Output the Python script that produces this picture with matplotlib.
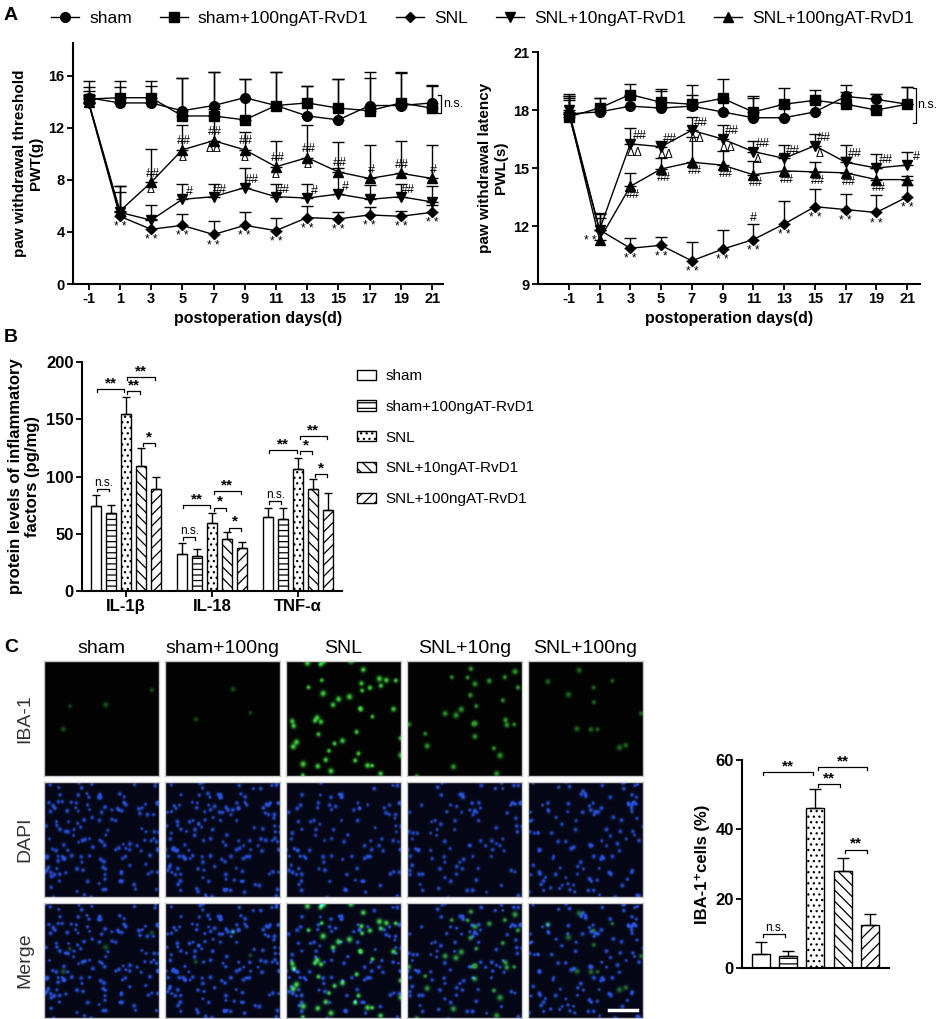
"""Multi-panel figure: pain behaviour (A), cytokines (B), IBA-1 staining (C)."""

import matplotlib.pyplot as plt
import numpy as np

W, H = 941, 1019
NARROW = ["Liberation Sans Narrow", "Liberation Sans", "DejaVu Sans"]
plt.rcParams["font.family"] = ["Liberation Sans", "DejaVu Sans"]
plt.rcParams["hatch.linewidth"] = 0.9

# ---------------- data ----------------
groups = ["sham", "sham+100ngAT-RvD1", "SNL", "SNL+10ngAT-RvD1", "SNL+100ngAT-RvD1"]
short_groups = ["sham", "sham+100ng", "SNL", "SNL+10ng", "SNL+100ng"]
markers = ["o", "s", "D", "v", "^"]
marker_sizes = [7, 6.5, 5.5, 7, 7]
hatches = ["", "---", "...", "\\\\\\", "///"]

days = ["-1", "1", "3", "5", "7", "9", "11", "13", "15", "17", "19", "21"]

# paw withdrawal threshold (g)
pwt_sham = [14.3, 13.9, 13.9, 13.3, 13.7, 14.3, 13.7, 12.9, 12.6, 13.7, 13.7, 13.9]
pwt_sham100 = [14.2, 14.3, 14.3, 12.9, 12.9, 12.6, 13.7, 13.9, 13.5, 13.3, 13.9, 13.5]
pwt_snl = [13.9, 5.2, 4.2, 4.5, 3.8, 4.5, 4.1, 5.1, 5.0, 5.3, 5.2, 5.5]
pwt_snl10 = [13.9, 5.5, 4.9, 6.5, 6.7, 7.4, 6.7, 6.6, 6.9, 6.5, 6.7, 6.3]
pwt_snl100 = [14.0, 5.6, 7.8, 10.3, 11.0, 10.3, 9.0, 9.7, 8.6, 8.1, 8.5, 8.1]
pwt_sham_err = [1.3, 1.2, 1.3, 2.5, 2.6, 1.4, 2.6, 2.3, 3.1, 2.6, 2.6, 1.4]
pwt_sham100_err = [0.9, 1.3, 1.3, 2.9, 3.4, 3.1, 2.6, 1.3, 2.2, 2.5, 2.3, 1.7]
pwt_snl_err = [0.5, 2.3, 0.8, 0.9, 1.0, 1.0, 1.0, 0.9, 0.5, 0.6, 0.4, 0.6]
pwt_snl10_err = [0.6, 1.6, 1.2, 1.2, 1.0, 1.5, 1.0, 1.1, 2.0, 1.1, 1.0, 1.2]
pwt_snl100_err = [0.8, 1.9, 2.6, 1.9, 2.4, 1.4, 2.0, 2.5, 2.3, 2.6, 2.5, 2.6]

# paw withdrawal latency (s)
pwl_sham = [17.8, 17.9, 18.2, 18.1, 18.2, 17.9, 17.6, 17.6, 17.9, 18.7, 18.55, 18.3]
pwl_sham100 = [17.65, 18.1, 18.8, 18.4, 18.3, 18.6, 17.9, 18.3, 18.5, 18.3, 18.0, 18.3]
pwl_snl = [17.8, 11.8, 10.85, 11.0, 10.2, 10.8, 11.3, 12.1, 13.0, 12.85, 12.7, 13.5]
pwl_snl10 = [18.0, 11.8, 16.25, 16.1, 16.95, 16.5, 15.85, 15.5, 16.15, 15.3, 15.0, 15.15]
pwl_snl100 = [17.9, 11.3, 14.05, 14.95, 15.3, 15.15, 14.65, 14.85, 14.8, 14.75, 14.4, 14.4]
pwl_sham_err = [0.9, 0.7, 0.5, 0.9, 0.6, 0.6, 1.0, 0.5, 0.5, 0.6, 0.3, 0.9]
pwl_sham100_err = [1.2, 0.5, 0.55, 0.7, 1.0, 1.0, 0.85, 0.85, 0.55, 0.65, 0.85, 0.9]
pwl_snl_err = [0.7, 0.85, 0.55, 0.45, 0.95, 1.0, 0.8, 1.2, 0.9, 0.8, 0.9, 0.6]
pwl_snl10_err = [0.6, 0.6, 0.8, 0.3, 0.7, 0.7, 0.55, 0.7, 0.6, 0.9, 0.7, 0.7]
pwl_snl100_err = [0.8, 1.3, 0.7, 0.55, 1.3, 0.75, 0.7, 0.8, 0.5, 0.8, 0.6, 0.2]

# significance marks along the time courses
pwt_snl_stars = ["", "**", "**", "**", "**", "**", "**", "**", "**", "**", "**", "**"]
pwt_snl10_hash = ["", "", "", "#", "##", "##", "##", "#", "#", "", "##", ""]
pwt_snl100_hash = ["", "", "##", "##", "##", "##", "##", "##", "##", "#", "##", "#"]
pwt_snl100_delta = ["", "", "Δ", "Δ", "ΔΔ", "Δ", "Δ", "Δ", "", "", "", ""]
pwl_snl_stars = ["", "**", "**", "**", "**", "**", "**", "**", "**", "**", "**", "**"]
pwl_snl_hash = ["", "", "", "", "", "", "#", "", "", "", "", ""]
pwl_snl10_hash = ["", "", "##", "##", "##", "##", "##", "##", "##", "##", "##", "#"]
pwl_snl10_delta = ["", "", "ΔΔ", "ΔΔ", "ΔΔ", "ΔΔ", "Δ", "", "Δ", "", "", ""]
pwl_snl100_hash = ["", "", "##", "##", "##", "##", "##", "##", "##", "##", "##", ""]

# inflammatory factors (pg/mg)
cytokines = ["IL-1β", "IL-18", "TNF-α"]
il1b_mean = [74.6, 67.8, 155.0, 108.8, 88.9]
il1b_err = [9.6, 7.6, 14.5, 15.8, 11.1]
il18_mean = [32.7, 30.7, 59.0, 45.3, 37.7]
il18_err = [8.8, 6.4, 9.4, 6.5, 4.7]
tnf_mean = [64.3, 62.6, 106.4, 88.9, 70.5]
tnf_err = [8.5, 10.2, 9.4, 9.3, 15.5]
# (bar i, bar j, height, label) per cytokine
il1b_sig = [(0, 1, 89.5, "n.s."), (0, 2, 176, "**"), (2, 3, 174.5, "**"), (2, 4, 187, "**"), (3, 4, 129, "*")]
il18_sig = [(0, 1, 47.4, "n.s."), (0, 2, 75, "**"), (2, 3, 72.8, "*"), (2, 4, 87.4, "**"), (3, 4, 55.3, "*")]
tnf_sig = [(0, 1, 79, "n.s."), (0, 2, 122.8, "**"), (2, 3, 122, "*"), (2, 4, 135, "**"), (3, 4, 102, "*")]

# IBA-1 positive cells (%)
iba1_mean = [4.1, 3.4, 46.2, 27.9, 12.3]
iba1_err = [3.3, 1.6, 5.3, 3.9, 3.3]
iba1_sig = [(0, 1, 9.7, "n.s."), (0, 2, 56.5, "**"), (2, 3, 53.1, "**"), (2, 4, 58.0, "**"), (3, 4, 34.1, "**")]

# micrographs: rough nucleus counts per section (DAPI)
nuclei_counts = [150, 160, 105, 100, 120]
stain_rows = ["IBA-1", "DAPI", "Merge"]


def rect(left, top, right, bottom):
    return [left / W, 1 - bottom / H, (right - left) / W, (bottom - top) / H]


def style_axis(ax, tick_size=10):
    for side in ("top", "right"):
        ax.spines[side].set_visible(False)
    for side in ("left", "bottom"):
        ax.spines[side].set_linewidth(1.5)
    ax.tick_params(direction="out", length=4, width=1.3, labelsize=tick_size, pad=2)
    for lab in ax.get_xticklabels() + ax.get_yticklabels():
        lab.set_family(NARROW)
        lab.set_fontweight("bold")


def bracket(ax, i, j, y, label, drop, fs_star=11, fs_ns=8.5):
    x1, x2 = i + 0.1, j - 0.1
    ax.plot([x1, x1, x2, x2], [y - drop, y, y, y - drop], color="black", lw=0.9, clip_on=False)
    if label == "n.s.":
        ax.text((x1 + x2) / 2, y, label, ha="center", va="bottom", fontsize=fs_ns, family=NARROW)
    else:
        ax.text((x1 + x2) / 2, y - drop * 0.4, label, ha="center", va="bottom", fontsize=fs_star,
                fontweight="bold")


fig = plt.figure(figsize=(W / 100, H / 100), dpi=100)

# ---------------- panel A ----------------
x = np.arange(len(days))
pwt = [pwt_sham, pwt_sham100, pwt_snl, pwt_snl10, pwt_snl100]
pwt_err = [pwt_sham_err, pwt_sham100_err, pwt_snl_err, pwt_snl10_err, pwt_snl100_err]
pwl = [pwl_sham, pwl_sham100, pwl_snl, pwl_snl10, pwl_snl100]
pwl_err = [pwl_sham_err, pwl_sham100_err, pwl_snl_err, pwl_snl10_err, pwl_snl100_err]

ax_l = fig.add_axes(rect(73, 43, 443, 284))
ax_r = fig.add_axes(rect(538, 52, 920, 284))
handles = []
for ax, means, errs in ((ax_l, pwt, pwt_err), (ax_r, pwl, pwl_err)):
    for k in range(5):
        m = np.asarray(means[k])
        e = np.asarray(errs[k])
        cont = ax.errorbar(x, m, yerr=[np.zeros_like(e), e], fmt="-" + markers[k], color="black",
                           ms=marker_sizes[k], lw=1, elinewidth=1, capsize=4, capthick=1,
                           label=groups[k])
        if ax is ax_l:
            handles.append(cont.lines[0])
    ax.set_xticks(x, days)
    ax.set_xlabel("postoperation days(d)", fontsize=11.5, fontweight="bold", labelpad=3)

ax_l.set_xlim(-0.5, 11.35)
ax_l.set_ylim(0, 18.5)
ax_l.set_yticks([0, 4, 8, 12, 16])
ax_l.set_ylabel("paw withdrawal threshold\nPWT(g)", fontsize=11, fontweight="bold", labelpad=4)
ax_r.set_xlim(-1, 11.42)
ax_r.set_ylim(9, 21)
ax_r.set_yticks([9, 12, 15, 18, 21])
ax_r.set_ylabel("paw withdrawal latency\nPWL(s)", fontsize=11, fontweight="bold", labelpad=4)
style_axis(ax_l, 10.5)
style_axis(ax_r, 10.5)

mark_fs = 9
for i in x:
    star = pwt_snl_stars[i].replace("**", "* *")
    ax_l.text(i, pwt_snl[i] - 0.85, star, ha="center", va="center", fontsize=8.5)
    ax_l.text(i + 0.22, pwt_snl10[i] + 0.55, pwt_snl10_hash[i], ha="center", va="center", fontsize=mark_fs)
    ax_l.text(i + 0.05, pwt_snl100[i] + 0.65, pwt_snl100_hash[i], ha="center", va="center", fontsize=mark_fs)
    ax_l.text(i, pwt_snl100[i] - 0.6, pwt_snl100_delta[i], ha="center", va="center", fontsize=mark_fs - 0.5)

    dx_star = -0.3 if i == 1 else 0
    star = pwl_snl_stars[i].replace("**", "* *")
    ax_r.text(i + dx_star, pwl_snl[i] - 0.58, star, ha="center", va="center", fontsize=8.5)
    ax_r.text(i, pwl_snl[i] + pwl_snl_err[i] + 0.3, pwl_snl_hash[i], ha="center", va="center", fontsize=mark_fs)
    ax_r.text(i + 0.3, pwl_snl10[i] + 0.4, pwl_snl10_hash[i], ha="center", va="center", fontsize=mark_fs)
    ax_r.text(i + 0.15, pwl_snl10[i] - 0.45, pwl_snl10_delta[i], ha="center", va="center", fontsize=mark_fs - 0.5)
    ax_r.text(i + 0.1, pwl_snl100[i] - 0.45, pwl_snl100_hash[i], ha="center", va="center", fontsize=mark_fs)

# n.s. brackets between the two sham groups at day 21
for ax, lo, hi in ((ax_l, pwt_sham100[-1], pwt_sham100[-1] + 1.0), (ax_r, pwl_sham[-1] - 0.55, pwl_sham[-1] + 0.85)):
    xb = x[-1] + 0.28
    ax.plot([xb - 0.1, xb, xb, xb - 0.1], [lo - 0.4, lo - 0.4, hi, hi], color="black", lw=0.9, clip_on=False)
    ax.text(xb + 0.06, (lo + hi) / 2 - 0.2, "n.s.", ha="left", va="center", fontsize=9, family=NARROW)

fig.legend(handles, groups, loc="center left", bbox_to_anchor=(51 / W, 1 - 18 / H), ncol=5,
           frameon=False, fontsize=12.5, handlelength=1.6, handletextpad=0.6, columnspacing=1.6,
           borderaxespad=0, borderpad=0)

# ---------------- panel B ----------------
ax_b = fig.add_axes(rect(82, 362, 342, 591))
group_step = 5.68
b_means = [il1b_mean, il18_mean, tnf_mean]
b_errs = [il1b_err, il18_err, tnf_err]
b_sigs = [il1b_sig, il18_sig, tnf_sig]
bar_handles = []
for g in range(3):
    pos = g * group_step + np.arange(5)
    for k in range(5):
        bar = ax_b.bar(pos[k], b_means[g][k], width=0.66, color="white", edgecolor="black",
                       hatch=hatches[k], linewidth=1, zorder=2)
        if g == 0:
            bar_handles.append(bar[0])
        ax_b.errorbar(pos[k], b_means[g][k], yerr=[[0], [b_errs[g][k]]], color="black",
                      elinewidth=1, capsize=3, capthick=1, zorder=3)
    for i, j, y, lab in b_sigs[g]:
        bracket(ax_b, pos[i], pos[j], y, lab, drop=2.6)
ax_b.set_xlim(-0.9, 16.26)
ax_b.set_ylim(0, 200)
ax_b.set_yticks([0, 50, 100, 150, 200])
ax_b.set_xticks(np.arange(3) * group_step + 2, cytokines)
ax_b.tick_params(axis="x", length=0)
ax_b.set_ylabel("protein levels of inflammatory\nfactors (pg/mg)", fontsize=12, fontweight="bold",
                labelpad=4)
style_axis(ax_b, 12)

leg = ax_b.legend(bar_handles, groups, loc="upper left", bbox_to_anchor=(357 / W, 1 - 369 / H),
                  bbox_transform=fig.transFigure, frameon=False, fontsize=11, handlelength=1.25,
                  handleheight=0.65, handletextpad=0.6, labelspacing=1.1, borderaxespad=0, borderpad=0)
for t in leg.get_texts():
    t.set_family(NARROW)

# ---------------- panel C: micrographs ----------------
n_px = 115
yy, xx = np.mgrid[0:n_px, 0:n_px]


def blobs(count, start, sigma):
    # equidistributed (Weyl, quadratic) spots, deterministic
    k = np.arange(start, start + count)
    cx = ((k * k * np.sqrt(2.0)) % 1.0) * n_px
    cy = ((k * k * np.sqrt(3.0) + k * np.sqrt(5.0)) % 1.0) * n_px
    img = np.zeros((n_px, n_px))
    for j, (px_, py_) in enumerate(zip(cx, cy)):
        s = sigma * (0.8 + 0.4 * ((j * 0.618) % 1.0))
        img += np.exp(-((xx - px_) ** 2 + (yy - py_) ** 2) / (2 * s ** 2))
    return np.clip(img, 0, 1)


col_left = [44, 165, 286, 407, 528]
row_top = [661, 782, 903]
size = 115
for c in range(5):
    blue = blobs(nuclei_counts[c], 41 * c + 7, 1.25) * 0.9
    green = blobs(int(round(iba1_mean[c])), 300 + 53 * c, 1.7) * (0.3 + 0.7 * iba1_mean[c] / 50)
    dapi = np.dstack([0.02 + 0.15 * blue, 0.03 + 0.32 * blue, 0.09 + 0.85 * blue])
    iba = np.dstack([0.01 + 0.25 * green, 0.015 + 0.85 * green, 0.01 + 0.25 * green])
    merge = np.clip(dapi + iba - np.array([0.01, 0.015, 0.01]), 0, 1)
    for r, img in enumerate((iba, dapi, merge)):
        axm = fig.add_axes(rect(col_left[c], row_top[r], col_left[c] + size, row_top[r] + size))
        axm.imshow(img, interpolation="bilinear", aspect="auto")
        axm.set_xticks([])
        axm.set_yticks([])
        for sp in axm.spines.values():
            sp.set_color("#c8c8c8")
            sp.set_linewidth(1)
        if r == 0:
            axm.set_title(short_groups[c], fontsize=14, family=NARROW, pad=6)
        if c == 0:
            axm.set_ylabel(stain_rows[r], fontsize=14, color="#333333", labelpad=8)
        if c == 4 and r == 2:
            axm.plot([0.70, 0.95], [0.07, 0.07], color="white", lw=2.5, transform=axm.transAxes)

# ---------------- panel C: IBA-1 quantification ----------------
ax_c = fig.add_axes(rect(742, 760, 889, 968))
pos = np.arange(5)
for k in range(5):
    ax_c.bar(pos[k], iba1_mean[k], width=0.66, color="white", edgecolor="black", hatch=hatches[k],
             linewidth=1, zorder=2)
    ax_c.errorbar(pos[k], iba1_mean[k], yerr=[[0], [iba1_err[k]]], color="black", elinewidth=1,
                  capsize=4, capthick=1, zorder=3)
for i, j, y, lab in iba1_sig:
    bracket(ax_c, pos[i], pos[j], y, lab, drop=0.8)
ax_c.set_xlim(-0.685, 4.7)
ax_c.set_ylim(0, 60)
ax_c.set_yticks([0, 20, 40, 60])
ax_c.set_xticks([])
ax_c.set_ylabel("IBA-1⁺cells (%)", fontsize=12, fontweight="bold", labelpad=4)
style_axis(ax_c, 12)

# panel letters
for letter, (lx, ly) in {"A": (4, 16), "B": (4, 338), "C": (4, 648)}.items():
    fig.text(lx / W, 1 - ly / H, letter, fontsize=14, fontweight="bold", va="center", ha="left")

fig.savefig("out.png", dpi=100)
